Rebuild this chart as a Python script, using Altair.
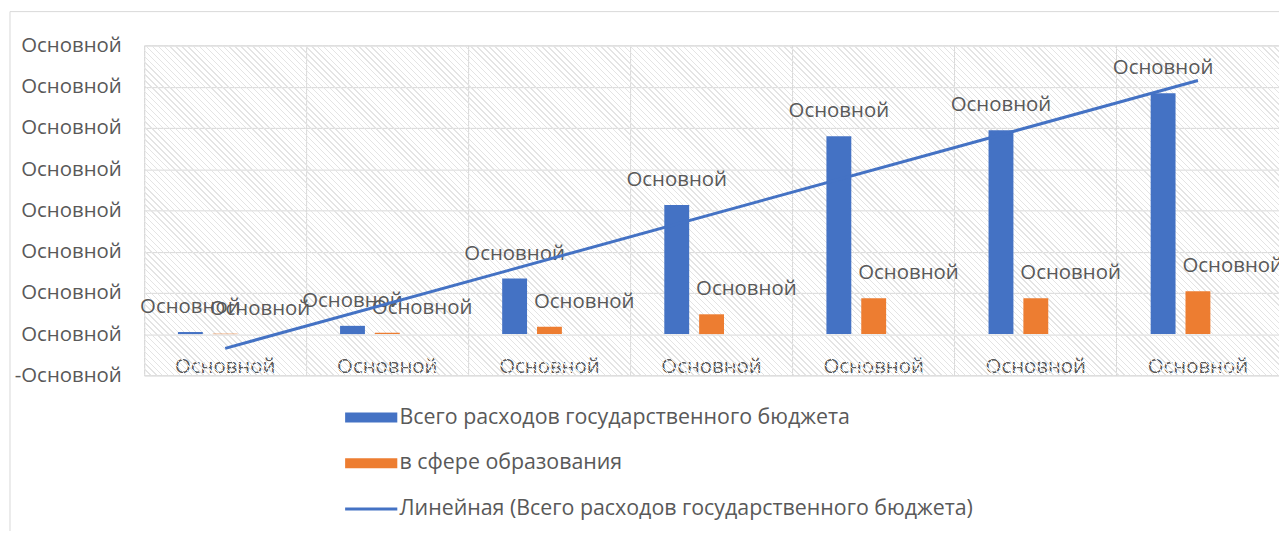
import altair as alt
import pandas as pd

# ---- data ----
idx = [1, 2, 3, 4, 5, 6, 7]
x_labels = ["Основной"] * 7
y_ticks = [-1, 0, 1, 2, 3, 4, 5, 6, 7]
y_labels = ["-Основной"] + ["Основной"] * 8
total = [0.05, 0.20, 1.35, 3.13, 4.80, 4.94, 5.84]
edu = [0.01, 0.03, 0.18, 0.48, 0.87, 0.87, 1.04]
total_lbl = ["Основной"] * 7
edu_lbl = ["Основной"] * 7
s_total = "Всего расходов государственного бюджета"
s_edu = "в сфере образования"
s_trend = "Линейная (Всего расходов государственного бюджета)"

BLUE = "#4472C4"
ORANGE = "#ED7D31"
GRID = "#d9d9d9"
TXT = "#595959"
FONT = "Open Sans"
FS = 20.5
LFS = 21.5

W, H = 1142, 332

rows = []
for i, v, l in zip(idx, total, total_lbl):
    rows.append({"idx": i, "series": s_total, "slot": "a", "value": v, "label": l})
for i, v, l in zip(idx, edu, edu_lbl):
    rows.append({"idx": i, "series": s_edu, "slot": "b", "value": v, "label": l})
long_df = pd.DataFrame(rows)
wide_df = pd.DataFrame({"idx": idx, "total": total})
one = pd.DataFrame({"k": [0]})

# faint diagonal hatch as a striped linear gradient (transparent between stripes)
r = H / W
c = (1 + r) / (1 + r * r)
L = (W + H) / 2 ** 0.5
period, lw = 4.2, 1.0
HC = "228,228,228"
stops = []
k = 0
while k * period < L:
    a = k * period / L
    b = min((k * period + lw) / L, 1.0)
    stops += [
        {"offset": a, "color": "rgba(%s,0)" % HC},
        {"offset": a, "color": "rgba(%s,1)" % HC},
        {"offset": b, "color": "rgba(%s,1)" % HC},
        {"offset": b, "color": "rgba(%s,0)" % HC},
    ]
    k += 1
hatch = {"gradient": "linear", "x1": 0, "y1": 1, "x2": c, "y2": 1 - c * r, "stops": stops}

x_expr = "[" + ",".join("'%s'" % s for s in x_labels) + "][datum.value-1]"
y_expr = "[" + ",".join("'%s'" % s for s in y_labels) + "][datum.value+1]"

x_scale = alt.Scale(domain=idx, paddingInner=0, paddingOuter=0)
xo_scale = alt.Scale(domain=["a", "b", "c"], paddingInner=0.286, paddingOuter=0.97)
y_scale = alt.Scale(domain=[-1, 7], nice=False, zero=False)

x_axis = alt.Axis(
    title=None, labelExpr=x_expr, labelAngle=0, grid=True, gridColor=GRID,
    bandPosition=0, domain=False, ticks=False, tickSize=0, labelPadding=-19,
    labelFont=FONT, labelFontSize=FS, labelColor=TXT,
)
y_axis = alt.Axis(
    title=None, values=y_ticks, labelExpr=y_expr, grid=True, gridColor=GRID,
    domain=False, ticks=False, tickSize=0, labelPadding=23,
    labelFont=FONT, labelFontSize=FS, labelColor=TXT,
)

color_scale = alt.Scale(domain=[s_total, s_edu, s_trend], range=[BLUE, ORANGE, BLUE])
shape_sig = (
    "datum.value === '%s' ? 'M-1.5,-0.09H1.5V0.09H-1.5Z' : 'M-1.5,-0.29H1.5V0.29H-1.5Z'" % s_trend
)
legend = alt.Legend(
    title=None, orient="none", legendX=211, legendY=357, direction="vertical",
    labelFont=FONT, labelFontSize=LFS, labelColor=TXT, labelLimit=900,
    symbolType={"expr": shape_sig}, symbolSize=1225, rowPadding=18,
    labelOffset=11, symbolStrokeWidth=0,
)

border = alt.Chart(one).mark_rect(fillOpacity=0, stroke=GRID, strokeWidth=1).encode(
    x=alt.value(-135), x2=alt.value(W + 200), y=alt.value(-34), y2=alt.value(H + 300)
)
bg = alt.Chart(one).mark_rect(fill=hatch).encode(
    x=alt.value(0), x2=alt.value(W), y=alt.value(0), y2=alt.value(H)
)

base = alt.Chart(long_df)
bars = base.mark_bar().encode(
    x=alt.X("idx:O", scale=x_scale, axis=x_axis),
    xOffset=alt.XOffset("slot:N", scale=xo_scale),
    y=alt.Y("value:Q", scale=y_scale, axis=y_axis),
    color=alt.Color("series:N", scale=color_scale, legend=legend),
)
lbl_total = base.transform_filter(alt.datum.slot == "a").mark_text(
    font=FONT, fontSize=FS, color=TXT, dy=-25, baseline="middle"
).encode(
    x=alt.X("idx:O"), xOffset=alt.XOffset("slot:N"), y=alt.Y("value:Q"), text="label:N"
)
lbl_edu = base.transform_filter(alt.datum.slot == "b").mark_text(
    font=FONT, fontSize=FS, color=TXT, dy=-25, dx=35, baseline="middle"
).encode(
    x=alt.X("idx:O"), xOffset=alt.XOffset("slot:N"), y=alt.Y("value:Q"), text="label:N"
)
trend = alt.Chart(wide_df).transform_regression("idx", "total", method="linear").mark_line(
    strokeWidth=3
).encode(
    x=alt.X("idx:O"), y=alt.Y("total:Q"), color=alt.datum(s_trend)
)

chart = alt.layer(border, bg, bars, lbl_total, lbl_edu, trend).properties(
    width=W, height=H,
    autosize=alt.AutoSizeParams(type="none"),
    padding={"left": 137, "top": 36, "right": 0, "bottom": 155},
    background="white",
).configure_view(stroke=GRID)

chart.save("out.html", embed_options={"renderer": "svg", "actions": False})
